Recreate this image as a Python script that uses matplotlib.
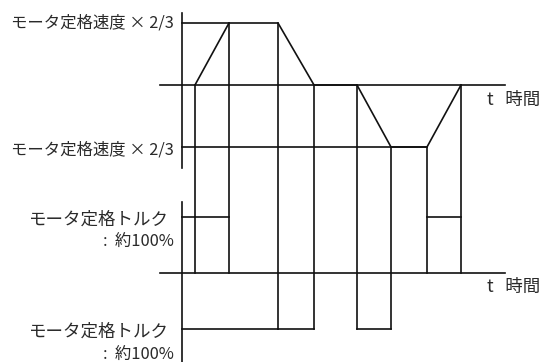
import matplotlib
matplotlib.use("Agg")
import matplotlib.pyplot as plt

plt.rcParams['font.family'] = ['Noto Sans CJK JP', 'DejaVu Sans']

# 時刻 (軸からの距離)
t_events = [0, 13, 47, 96, 132, 175, 209, 245, 279]
t_end = 323          # 時間軸の右端
t_start = -22        # 時間軸の左端

# 速度波形 (定格速度×2/3 = ±1)
speed_t = [t_events[1], t_events[2], t_events[3], t_events[4],
           t_events[5], t_events[6], t_events[7], t_events[8]]
speed_v = [0, 1, 1, 0, 0, -1, -1, 0]

# トルク波形 (定格トルク 約100% = ±1)
torque_pulses = [(t_events[1], t_events[2], 1),
                 (t_events[3], t_events[4], -1),
                 (t_events[5], t_events[6], -1),
                 (t_events[7], t_events[8], 1)]

speed_label = "モータ定格速度 × 2/3"
torque_label = "モータ定格トルク"
torque_sub = ":  約100%"
time_label = "t   時間"

# 配置 (ピクセル)
X0 = 182
SP0, SPU = 85, 62
TQ0, TQU = 273, 56

def sx(t):
    return X0 + t

def sy(v):
    return SP0 - v * SPU

def ty(q):
    return TQ0 - q * TQU

fig = plt.figure(figsize=(5.47, 3.62), dpi=100)
ax = fig.add_axes([0, 0, 1, 1])
ax.set_xlim(0, 547)
ax.set_ylim(362, 0)
ax.axis('off')

lc = '#111111'
lw = 1.2
tc = '#2a2a2a'

# 縦軸
ax.plot([X0, X0], [13, 168], color=lc, lw=lw)
ax.plot([X0, X0], [202, 362], color=lc, lw=lw)

# 時間軸
ax.plot([sx(t_start), sx(t_end)], [sy(0), sy(0)], color=lc, lw=lw)
ax.plot([sx(t_start), sx(t_end)], [ty(0), ty(0)], color=lc, lw=lw)

# 速度基準線
ax.plot([sx(0), sx(t_events[2])], [sy(1), sy(1)], color=lc, lw=lw)
ax.plot([sx(0), sx(t_events[7])], [sy(-1), sy(-1)], color=lc, lw=lw)

# 速度波形
ax.plot([sx(t) for t in speed_t], [sy(v) for v in speed_v], color=lc, lw=lw)

# トルク基準線
ax.plot([sx(0), sx(t_events[1])], [ty(1), ty(1)], color=lc, lw=lw)
ax.plot([sx(0), sx(t_events[3])], [ty(-1), ty(-1)], color=lc, lw=lw)

# トルク波形
for a, b, q in torque_pulses:
    ax.plot([sx(a), sx(b)], [ty(q), ty(q)], color=lc, lw=lw)

# 縦の区切り線 (速度波形の点からトルク波形まで)
for i in range(1, 9):
    t = t_events[i]
    v = max([speed_v[k] for k in range(len(speed_t)) if speed_t[k] == t], key=abs)
    q = 0
    for a, b, qq in torque_pulses:
        if t in (a, b):
            q = qq
    y_top = sy(v)
    y_bot = ty(q) if q < 0 else ty(0)
    ax.plot([sx(t), sx(t)], [y_top, y_bot], color=lc, lw=lw)

fs = 11.8
fs2 = 12.6
ax.text(174, sy(1), speed_label, ha='right', va='center', fontsize=fs, color=tc)
ax.text(174, sy(-1) + 3, speed_label, ha='right', va='center', fontsize=fs, color=tc)
ax.text(169, ty(1) + 3, torque_label, ha='right', va='center', fontsize=fs2, color=tc)
ax.text(174, ty(1) + 25, torque_sub, ha='right', va='center', fontsize=fs, color=tc)
ax.text(169, ty(-1) + 3, torque_label, ha='right', va='center', fontsize=fs2, color=tc)
ax.text(174, ty(-1) + 26, torque_sub, ha='right', va='center', fontsize=fs, color=tc)
ax.text(487, sy(0) + 15, time_label, ha='left', va='center', fontsize=fs2, color=tc)
ax.text(487, ty(0) + 14, time_label, ha='left', va='center', fontsize=fs2, color=tc)

fig.savefig('out.png', dpi=100)
